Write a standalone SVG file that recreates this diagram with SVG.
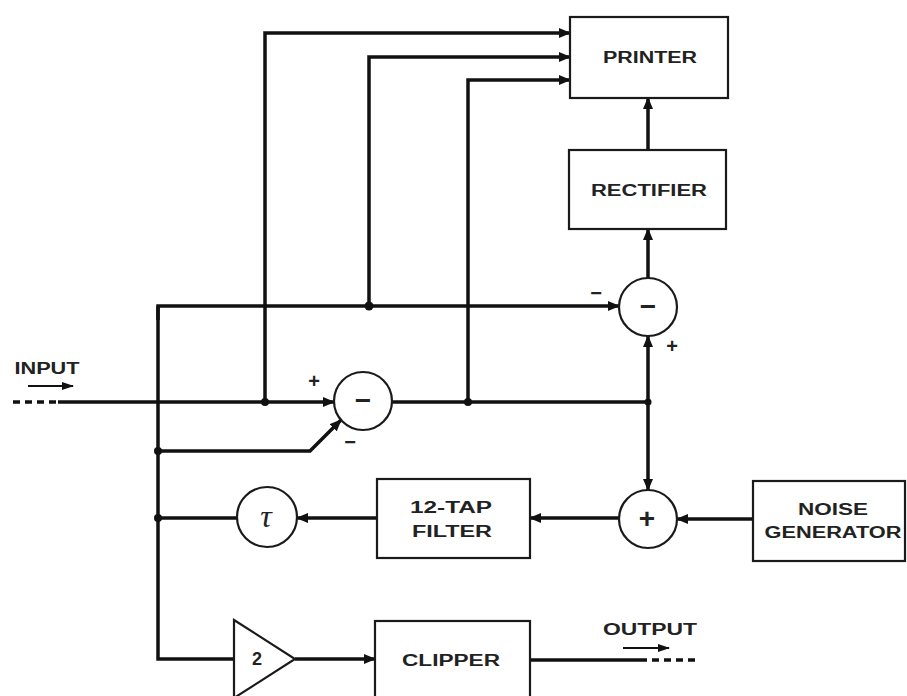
<svg xmlns="http://www.w3.org/2000/svg" width="907" height="696" viewBox="0 0 907 696">
<style>
.box{fill:#fff;stroke:#1a1a1a;stroke-width:2.2}
.ln{fill:none;stroke:#111;stroke-width:3.5;stroke-linejoin:miter}
.thin{fill:none;stroke:#111;stroke-width:2.2}
.dash{fill:none;stroke:#111;stroke-width:3.5;stroke-dasharray:7 5}
.t{font-family:"Liberation Sans",Arial,sans-serif;font-weight:bold;font-size:16px;fill:#222;text-anchor:middle;dominant-baseline:central}
.s{font-family:"Liberation Sans",Arial,sans-serif;font-weight:bold;font-size:20px;fill:#222;text-anchor:middle;dominant-baseline:central}
.si{font-family:"Liberation Sans",Arial,sans-serif;font-weight:bold;font-size:28px;fill:#222;text-anchor:middle;dominant-baseline:central}
.dot{fill:#111}
</style>
<defs>
<marker id="ah" markerUnits="userSpaceOnUse" markerWidth="12" markerHeight="10" refX="11" refY="5" orient="auto">
<path d="M0,0 L12,5 L0,10 Z" fill="#111"/>
</marker>
<marker id="ahs" markerUnits="userSpaceOnUse" markerWidth="12" markerHeight="8" refX="11" refY="4" orient="auto">
<path d="M0,0 L12,4 L0,8 Z" fill="#111"/>
</marker>
</defs>
<rect width="907" height="696" fill="#fff"/>

<g id="connectors">
<!-- input -->
<line class="dash" x1="13" y1="402" x2="58" y2="402"/>
<line class="ln" x1="58" y1="402" x2="334" y2="402" marker-end="url(#ah)"/>
<!-- taps to printer -->
<polyline class="ln" points="265,402 265,33 570,33" marker-end="url(#ah)"/>
<polyline class="ln" points="369,305 369,57 570,57" marker-end="url(#ah)"/>
<polyline class="ln" points="468,402 468,80 570,80" marker-end="url(#ah)"/>
<!-- lower subtractor output -->
<line class="ln" x1="392" y1="402" x2="648" y2="402"/>
<line class="ln" x1="648" y1="402" x2="648" y2="336" marker-end="url(#ah)"/>
<line class="ln" x1="648" y1="402" x2="648" y2="490" marker-end="url(#ah)"/>
<!-- top subtractor to rectifier to printer -->
<line class="ln" x1="648" y1="278" x2="648" y2="229" marker-end="url(#ah)"/>
<line class="ln" x1="648" y1="150" x2="648" y2="98" marker-end="url(#ah)"/>
<!-- bus to top subtractor -->
<polyline class="ln" points="158,320 158,306 619,306" marker-end="url(#ah)"/>
<!-- left bus -->
<polyline class="ln" points="158,306 158,659 234,659"/>
<!-- feedback to lower subtractor -->
<polyline class="ln" points="158,451 310,451 341,420" marker-end="url(#ah)"/>
<!-- adder to filter, filter to tau, tau to bus -->
<line class="ln" x1="619" y1="518" x2="530" y2="518" marker-end="url(#ah)"/>
<line class="ln" x1="377" y1="518" x2="297" y2="518" marker-end="url(#ah)"/>
<line class="ln" x1="237" y1="518" x2="158" y2="518"/>
<!-- noise generator to adder -->
<line class="ln" x1="753" y1="519" x2="677" y2="519" marker-end="url(#ah)"/>
<!-- amplifier to clipper -->
<line class="ln" x1="295" y1="659" x2="375" y2="659" marker-end="url(#ah)"/>
<!-- output -->
<line class="ln" x1="530" y1="660" x2="640" y2="660"/>
<line class="dash" x1="640" y1="660" x2="697" y2="660"/>
<!-- junction dots -->
<circle class="dot" cx="265" cy="402" r="4"/>
<circle class="dot" cx="369" cy="306" r="4.5"/>
<circle class="dot" cx="468" cy="402" r="4"/>
<circle class="dot" cx="648" cy="402" r="3.5"/>
<circle class="dot" cx="158" cy="451" r="4"/>
<circle class="dot" cx="158" cy="518" r="4"/>
<!-- small direction arrows -->
<line class="thin" x1="28" y1="386" x2="73" y2="386" marker-end="url(#ahs)"/>
<line class="thin" x1="623" y1="648" x2="669" y2="648" marker-end="url(#ahs)"/>
</g>

<g id="printer">
<rect class="box" x="570" y="17" width="158" height="81"/>
<text class="t" x="650" y="57" textLength="94" lengthAdjust="spacingAndGlyphs">PRINTER</text>
</g>
<g id="rectifier">
<rect class="box" x="569" y="150" width="157" height="79"/>
<text class="t" x="649" y="190" textLength="116" lengthAdjust="spacingAndGlyphs">RECTIFIER</text>
</g>
<g id="subtractor-top">
<circle class="box" cx="648" cy="307" r="29"/>
<text class="si" x="648" y="306">−</text>
<text class="s" x="596" y="293">−</text>
<text class="s" x="672" y="346">+</text>
</g>
<g id="subtractor-bottom">
<circle class="box" cx="363" cy="401" r="29"/>
<text class="si" x="363" y="400">−</text>
<text class="s" x="314" y="381">+</text>
<text class="s" x="350" y="442">−</text>
</g>
<g id="adder">
<circle class="box" cx="648" cy="519" r="29"/>
<text class="si" x="647" y="518">+</text>
</g>
<g id="filter">
<rect class="box" x="377" y="479" width="153" height="79"/>
<text class="t" x="451" y="507" textLength="82" lengthAdjust="spacingAndGlyphs">12-TAP</text>
<text class="t" x="452" y="531" textLength="80" lengthAdjust="spacingAndGlyphs">FILTER</text>
</g>
<g id="delay">
<circle class="box" cx="267" cy="517" r="30"/>
<text x="266" y="516" style="font-family:'Liberation Serif','Times New Roman',serif;font-style:italic;font-size:32px;fill:#222;text-anchor:middle;dominant-baseline:central">τ</text>
</g>
<g id="noise-generator">
<rect class="box" x="753" y="481" width="152" height="80"/>
<text class="t" x="833" y="509" textLength="70" lengthAdjust="spacingAndGlyphs">NOISE</text>
<text class="t" x="833" y="532" textLength="137" lengthAdjust="spacingAndGlyphs">GENERATOR</text>
</g>
<g id="amplifier">
<polygon class="box" points="234,620 295,659 234,698"/>
<text class="t" x="257" y="659" style="font-size:18px">2</text>
</g>
<g id="clipper">
<rect class="box" x="375" y="621" width="155" height="90"/>
<text class="t" x="451" y="660" textLength="98" lengthAdjust="spacingAndGlyphs">CLIPPER</text>
</g>
<g id="labels">
<text class="t" x="47" y="368" textLength="65" lengthAdjust="spacingAndGlyphs">INPUT</text>
<text class="t" x="650" y="629" textLength="94" lengthAdjust="spacingAndGlyphs">OUTPUT</text>
</g>
</svg>
